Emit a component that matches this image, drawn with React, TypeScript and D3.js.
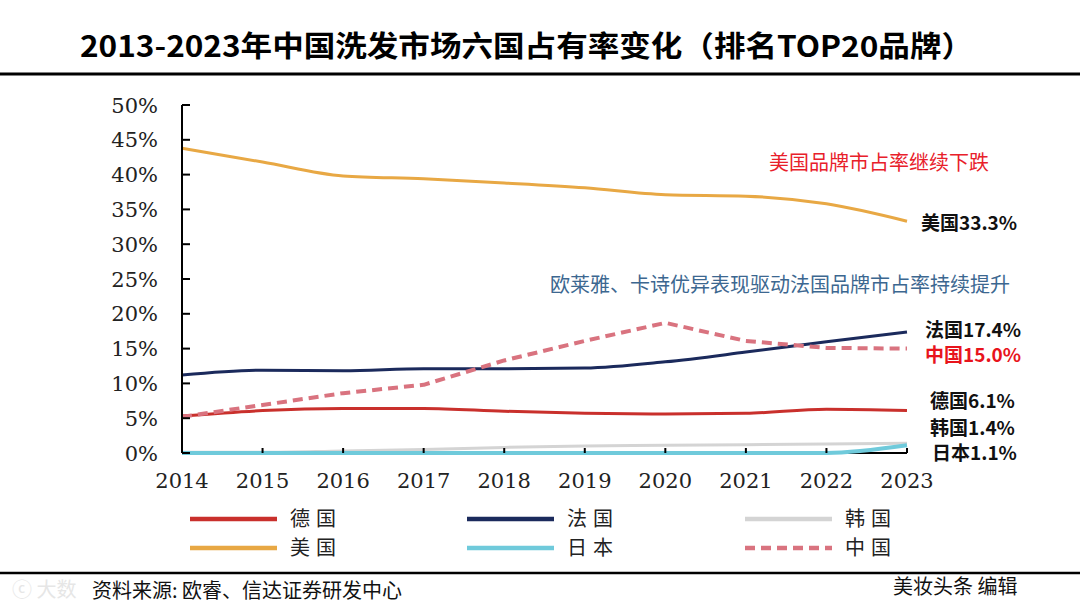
import React from "react";
import * as d3 from "d3";

const years = ["2014", "2015", "2016", "2017", "2018", "2019", "2020", "2021", "2022", "2023"];
const germany = [5.3, 6.1, 6.4, 6.4, 6.0, 5.7, 5.6, 5.7, 6.3, 6.1];
const france = [11.2, 11.9, 11.8, 12.1, 12.1, 12.2, 13.1, 14.5, 16.0, 17.4];
const korea = [0.1, 0.1, 0.3, 0.5, 0.8, 1.0, 1.1, 1.2, 1.3, 1.4];
const usa = [43.8, 41.8, 39.8, 39.4, 38.8, 38.1, 37.1, 36.9, 35.8, 33.3];
const japan = [0, 0, 0, 0, 0, 0, 0, 0, 0, 1.1];
const china = [5.2, 6.9, 8.6, 9.8, 13.3, 16.1, 18.7, 16.1, 15.1, 15.0];
const yTicks = [0, 5, 10, 15, 20, 25, 30, 35, 40, 45, 50];

const seriesDefs = [
  { name: "韩国", values: korea, color: "#d4d4d4", dash: "", width: 3, smooth: true },
  { name: "日本", values: japan, color: "#6fcadb", dash: "", width: 4, smooth: true },
  { name: "德国", values: germany, color: "#c9302c", dash: "", width: 3, smooth: true },
  { name: "法国", values: france, color: "#1b2a5c", dash: "", width: 3, smooth: true },
  { name: "美国", values: usa, color: "#e8a844", dash: "", width: 3, smooth: true },
  { name: "中国", values: china, color: "#d9737f", dash: "10,6", width: 4, smooth: false },
];

const legendItems = [
  { name: "德国", color: "#c9302c", dash: "", col: 0, row: 0 },
  { name: "法国", color: "#1b2a5c", dash: "", col: 1, row: 0 },
  { name: "韩国", color: "#d4d4d4", dash: "", col: 2, row: 0 },
  { name: "美国", color: "#e8a844", dash: "", col: 0, row: 1 },
  { name: "日本", color: "#6fcadb", dash: "", col: 1, row: 1 },
  { name: "中国", color: "#d9737f", dash: "10,6", col: 2, row: 1 },
];

const endLabels = [
  { text: "美国33.3%", y: 223, x: 921, color: "#111" },
  { text: "法国17.4%", y: 330, x: 925, color: "#111" },
  { text: "中国15.0%", y: 355, x: 925, color: "#e8141c" },
  { text: "德国6.1%", y: 401, x: 930, color: "#111" },
  { text: "韩国1.4%", y: 428, x: 930, color: "#111" },
  { text: "日本1.1%", y: 453, x: 932, color: "#111" },
];

export default function App() {
  const x = d3.scalePoint<string>().domain(years).range([182, 907]);
  const y = d3.scaleLinear().domain([0, 50]).range([453, 105]);
  const line = (vals: number[], smooth: boolean) =>
    d3
      .line<number>()
      .x((_, i) => x(years[i]) as number)
      .y((d) => y(d))
      .curve(smooth ? d3.curveMonotoneX : d3.curveLinear)(vals) as string;

  const serif = "'DejaVu Serif', 'Liberation Serif', serif";
  const sans = "'Noto Sans CJK SC', 'Noto Sans', sans-serif";
  const legendX = [190, 467, 745];
  const legendY = [519, 548];

  return (
    <svg
      width={1080}
      height={611}
      viewBox="0 0 1080 611"
      style={{ position: "absolute", left: 0, top: 0, background: "#fff" }}
    >
      <rect x={0} y={0} width={1080} height={611} fill="#fff" />
      <text
        x={80}
        y={57}
        fontFamily={sans}
        fontWeight={700}
        fontSize={29}
        textLength={893}
        lengthAdjust="spacingAndGlyphs"
        fill="#000"
      >
        2013-2023年中国洗发市场六国占有率变化（排名TOP20品牌）
      </text>
      <line x1={0} x2={1080} y1={74} y2={74} stroke="#000" strokeWidth={3} />

      {/* baseline */}
      <line x1={182} x2={907} y1={y(0)} y2={y(0)} stroke="#000" strokeWidth={2} />

      {/* series */}
      {seriesDefs.map((s) => (
        <path
          key={s.name}
          d={line(s.values, s.smooth)}
          fill="none"
          stroke={s.color}
          strokeWidth={s.width}
          strokeDasharray={s.dash || undefined}
          strokeLinejoin="round"
        />
      ))}

      {/* y axis */}
      <line x1={182} x2={182} y1={y(50)} y2={y(0)} stroke="#000" strokeWidth={2} />
      {yTicks.map((t) => (
        <g key={t}>
          <line x1={182} x2={190} y1={y(t)} y2={y(t)} stroke="#000" strokeWidth={2} />
          <text
            x={158}
            y={y(t)}
            dy="0.36em"
            textAnchor="end"
            fontFamily={serif}
            fontSize={21}
            fill="#222"
          >
            {t}%
          </text>
        </g>
      ))}

      {/* x ticks & labels */}
      {years.map((yr) => (
        <g key={yr}>
          <line
            x1={x(yr) as number}
            x2={x(yr) as number}
            y1={y(0)}
            y2={y(0) - 5}
            stroke="#000"
            strokeWidth={2}
          />
          <text
            x={x(yr) as number}
            y={488}
            textAnchor="middle"
            fontFamily={serif}
            fontSize={21}
            fill="#222"
          >
            {yr}
          </text>
        </g>
      ))}

      {/* annotations */}
      <text x={769} y={170} fontFamily={sans} fontSize={20} fill="#e8202a">
        美国品牌市占率继续下跌
      </text>
      <text x={550} y={292} fontFamily={sans} fontSize={20} fill="#3c6790">
        欧莱雅、卡诗优异表现驱动法国品牌市占率持续提升
      </text>

      {endLabels.map((l) => (
        <text
          key={l.text}
          x={l.x}
          y={l.y}
          dy="0.36em"
          fontFamily={sans}
          fontWeight={700}
          fontSize={19}
          fill={l.color}
        >
          {l.text}
        </text>
      ))}

      {/* legend */}
      {legendItems.map((it) => {
        const lx = legendX[it.col];
        const ly = legendY[it.row];
        return (
          <g key={it.name}>
            <line
              x1={lx}
              x2={lx + 87}
              y1={ly}
              y2={ly}
              stroke={it.color}
              strokeWidth={4.5}
              strokeDasharray={it.dash || undefined}
            />
            <text
              x={lx + 100}
              y={ly}
              dy="0.36em"
              fontFamily={sans}
              fontSize={20}
              letterSpacing={6}
              fill="#222"
            >
              {it.name}
            </text>
          </g>
        );
      })}

      <line x1={0} x2={1080} y1={573} y2={573} stroke="#000" strokeWidth={2.5} />
      <text x={12} y={597} fontFamily={sans} fontSize={20} fill="#e6e6e6">
        ⓒ 大数
      </text>
      <text x={92} y={598} fontFamily={sans} fontSize={20} fill="#111">
        资料来源: 欧睿、信达证券研发中心
      </text>
      <text x={893} y={594} fontFamily={sans} fontSize={20} fill="#111">
        美妆头条 编辑
      </text>
    </svg>
  );
}
